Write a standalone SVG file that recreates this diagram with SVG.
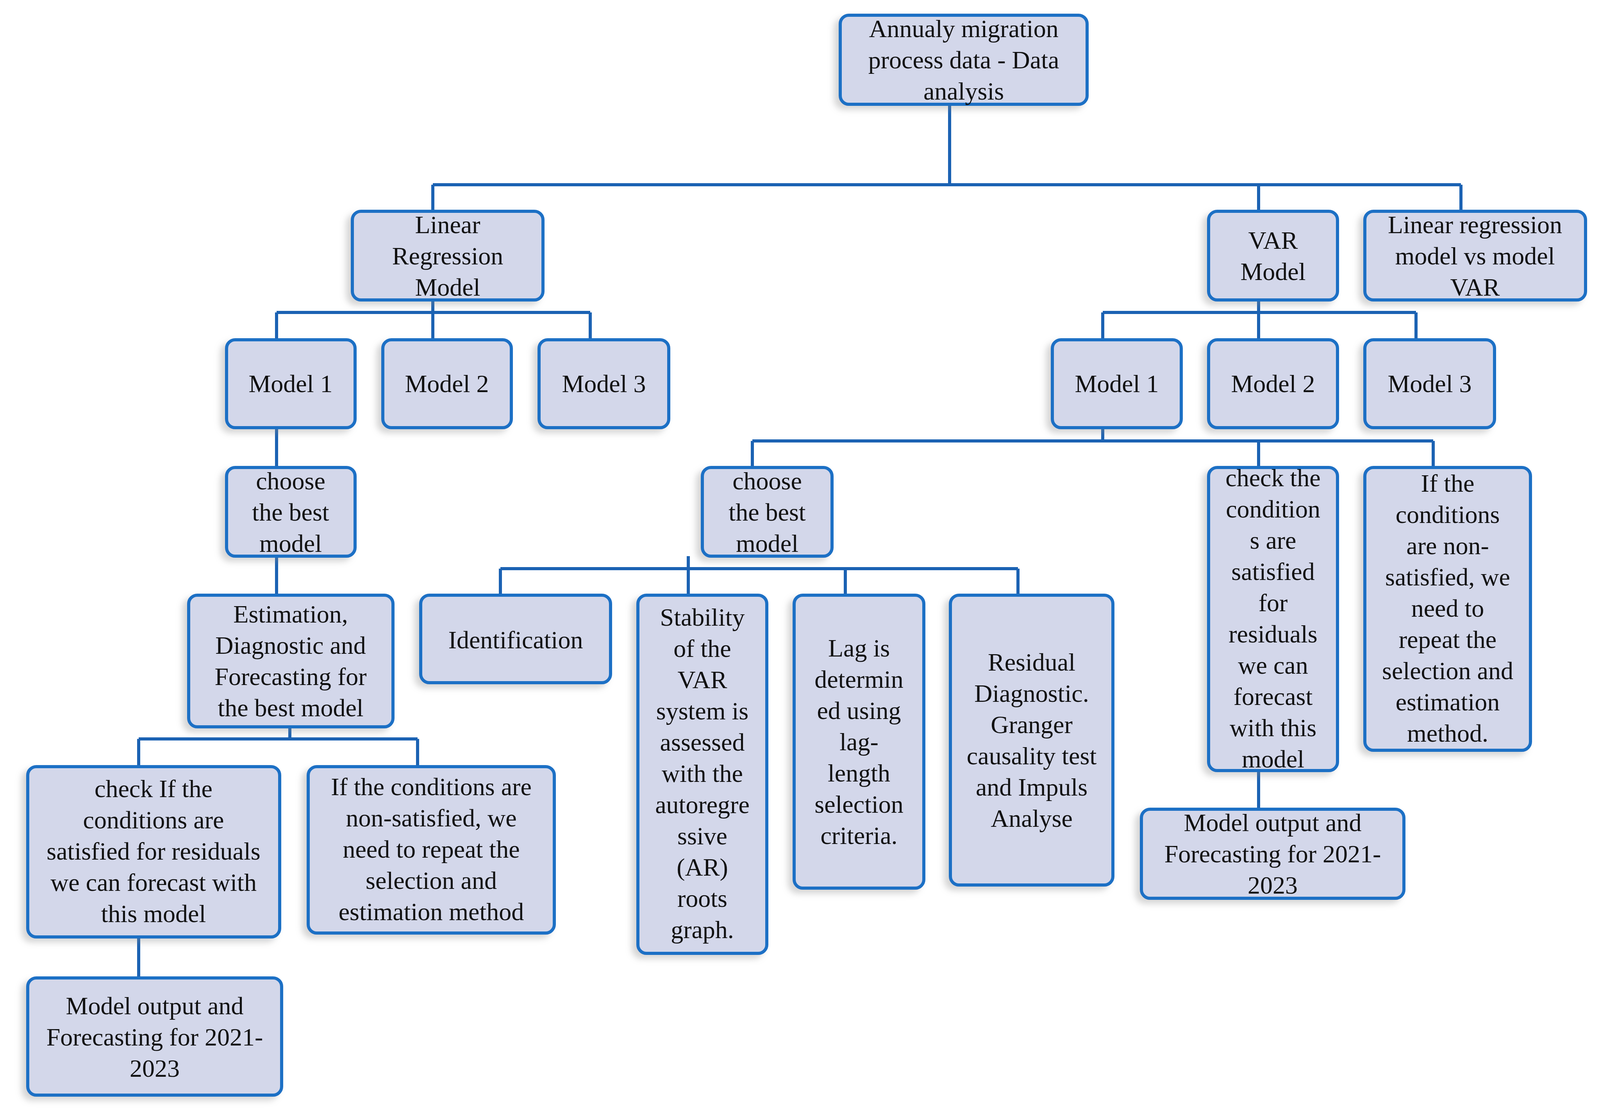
<svg xmlns="http://www.w3.org/2000/svg" width="4098" height="2837" viewBox="0 0 4098 2837">
<style>
.b{fill:#d3d7ea;stroke:#1f6fc5;stroke-width:8;filter:url(#sh)}
.t{font-family:"Liberation Serif",serif;font-size:64px;fill:#111;text-anchor:middle}
.c{stroke:#1b62b3;stroke-width:8;fill:none}
</style>
<defs><filter id="sh" x="-20%" y="-20%" width="140%" height="140%"><feDropShadow dx="-12" dy="10" stdDeviation="8" flood-color="#888" flood-opacity="0.35"/></filter></defs>
<rect width="4098" height="2837" fill="#fff"/>
<g id="connectors" class="c">
<path d="M2431 267V473M1108 473H3740M1108 473V541M3222 473V541M3740 473V541"/>
<path d="M1108 768V800M708 800H1511M708 800V870M1108 800V870M1511 800V870"/>
<path d="M3222 768V800M2823 800H3625M2823 800V870M3222 800V870M3625 800V870"/>
<path d="M708 1095V1197M708 1424V1524"/>
<path d="M742 1861V1892M355 1892H1069M355 1892V1963M1069 1892V1963M355 2399V2504"/>
<path d="M2823 1095V1129M1926 1129H3669M1926 1129V1197M3222 1129V1197M3669 1129V1197"/>
<path d="M1762 1424V1456M1281 1456H2606M1281 1456V1524M1762 1456V1524M2164 1456V1524M2606 1456V1524"/>
<path d="M3222 1973V2072"/>
</g>
<g id="top"><rect class="b" x="2151" y="39" width="632" height="228" rx="22"/><text class="t" x="2467" y="95"><tspan x="2467">Annualy migration</tspan><tspan x="2467" dy="80">process data - Data</tspan><tspan x="2467" dy="80">analysis</tspan></text></g>
<g id="lrm"><rect class="b" x="902" y="541" width="488" height="227" rx="22"/><text class="t" x="1146" y="597"><tspan x="1146">Linear</tspan><tspan x="1146" dy="80">Regression</tspan><tspan x="1146" dy="80">Model</tspan></text></g>
<g id="var"><rect class="b" x="3094" y="541" width="330" height="227" rx="22"/><text class="t" x="3259" y="637"><tspan x="3259">VAR</tspan><tspan x="3259" dy="80">Model</tspan></text></g>
<g id="lrvsvar"><rect class="b" x="3494" y="541" width="565" height="227" rx="22"/><text class="t" x="3776" y="597"><tspan x="3776">Linear regression</tspan><tspan x="3776" dy="80">model vs model</tspan><tspan x="3776" dy="80">VAR</tspan></text></g>
<g id="lr-m1"><rect class="b" x="580" y="870" width="329" height="225" rx="22"/><text class="t" x="744" y="1004">Model 1</text></g>
<g id="lr-m2"><rect class="b" x="980" y="870" width="329" height="225" rx="22"/><text class="t" x="1144" y="1004">Model 2</text></g>
<g id="lr-m3"><rect class="b" x="1380" y="870" width="332" height="225" rx="22"/><text class="t" x="1546" y="1004">Model 3</text></g>
<g id="var-m1"><rect class="b" x="2694" y="870" width="330" height="225" rx="22"/><text class="t" x="2859" y="1004">Model 1</text></g>
<g id="var-m2"><rect class="b" x="3094" y="870" width="330" height="225" rx="22"/><text class="t" x="3259" y="1004">Model 2</text></g>
<g id="var-m3"><rect class="b" x="3494" y="870" width="332" height="225" rx="22"/><text class="t" x="3660" y="1004">Model 3</text></g>
<g id="choose-lr"><rect class="b" x="580" y="1197" width="329" height="227" rx="22"/><text class="t" x="744" y="1253"><tspan x="744">choose</tspan><tspan x="744" dy="80">the best</tspan><tspan x="744" dy="80">model</tspan></text></g>
<g id="choose-var"><rect class="b" x="1798" y="1197" width="332" height="227" rx="22"/><text class="t" x="1964" y="1253"><tspan x="1964">choose</tspan><tspan x="1964" dy="80">the best</tspan><tspan x="1964" dy="80">model</tspan></text></g>
<g id="check-var"><rect class="b" x="3094" y="1197" width="330" height="776" rx="22"/><text class="t" x="3259" y="1245"><tspan x="3259">check the</tspan><tspan x="3259" dy="80">condition</tspan><tspan x="3259" dy="80">s are</tspan><tspan x="3259" dy="80">satisfied</tspan><tspan x="3259" dy="80">for</tspan><tspan x="3259" dy="80">residuals</tspan><tspan x="3259" dy="80">we can</tspan><tspan x="3259" dy="80">forecast</tspan><tspan x="3259" dy="80">with this</tspan><tspan x="3259" dy="80">model</tspan></text></g>
<g id="if-var"><rect class="b" x="3494" y="1197" width="424" height="724" rx="22"/><text class="t" x="3706" y="1259"><tspan x="3706">If the</tspan><tspan x="3706" dy="80">conditions</tspan><tspan x="3706" dy="80">are non-</tspan><tspan x="3706" dy="80">satisfied, we</tspan><tspan x="3706" dy="80">need to</tspan><tspan x="3706" dy="80">repeat the</tspan><tspan x="3706" dy="80">selection and</tspan><tspan x="3706" dy="80">estimation</tspan><tspan x="3706" dy="80">method.</tspan></text></g>
<g id="estimation"><rect class="b" x="483" y="1524" width="523" height="337" rx="22"/><text class="t" x="744" y="1594"><tspan x="744">Estimation,</tspan><tspan x="744" dy="80">Diagnostic and</tspan><tspan x="744" dy="80">Forecasting for</tspan><tspan x="744" dy="80">the best model</tspan></text></g>
<g id="identification"><rect class="b" x="1077" y="1524" width="486" height="224" rx="22"/><text class="t" x="1320" y="1660">Identification</text></g>
<g id="stability"><rect class="b" x="1633" y="1524" width="330" height="917" rx="22"/><text class="t" x="1798" y="1602"><tspan x="1798">Stability</tspan><tspan x="1798" dy="80">of the</tspan><tspan x="1798" dy="80">VAR</tspan><tspan x="1798" dy="80">system is</tspan><tspan x="1798" dy="80">assessed</tspan><tspan x="1798" dy="80">with the</tspan><tspan x="1798" dy="80">autoregre</tspan><tspan x="1798" dy="80">ssive</tspan><tspan x="1798" dy="80">(AR)</tspan><tspan x="1798" dy="80">roots</tspan><tspan x="1798" dy="80">graph.</tspan></text></g>
<g id="lag"><rect class="b" x="2033" y="1524" width="332" height="750" rx="22"/><text class="t" x="2199" y="1681"><tspan x="2199">Lag is</tspan><tspan x="2199" dy="80">determin</tspan><tspan x="2199" dy="80">ed using</tspan><tspan x="2199" dy="80">lag-</tspan><tspan x="2199" dy="80">length</tspan><tspan x="2199" dy="80">selection</tspan><tspan x="2199" dy="80">criteria.</tspan></text></g>
<g id="residual"><rect class="b" x="2433" y="1524" width="416" height="742" rx="22"/><text class="t" x="2641" y="1717"><tspan x="2641">Residual</tspan><tspan x="2641" dy="80">Diagnostic.</tspan><tspan x="2641" dy="80">Granger</tspan><tspan x="2641" dy="80">causality test</tspan><tspan x="2641" dy="80">and Impuls</tspan><tspan x="2641" dy="80">Analyse</tspan></text></g>
<g id="output-var"><rect class="b" x="2922" y="2072" width="672" height="228" rx="22"/><text class="t" x="3258" y="2128"><tspan x="3258">Model output and</tspan><tspan x="3258" dy="80">Forecasting for 2021-</tspan><tspan x="3258" dy="80">2023</tspan></text></g>
<g id="check-lr"><rect class="b" x="71" y="1963" width="645" height="436" rx="22"/><text class="t" x="393" y="2041"><tspan x="393">check If the</tspan><tspan x="393" dy="80">conditions are</tspan><tspan x="393" dy="80">satisfied for residuals</tspan><tspan x="393" dy="80">we can forecast with</tspan><tspan x="393" dy="80">this model</tspan></text></g>
<g id="if-lr"><rect class="b" x="789" y="1963" width="630" height="426" rx="22"/><text class="t" x="1104" y="2036"><tspan x="1104">If the conditions are</tspan><tspan x="1104" dy="80">non-satisfied, we</tspan><tspan x="1104" dy="80">need to repeat the</tspan><tspan x="1104" dy="80">selection and</tspan><tspan x="1104" dy="80">estimation method</tspan></text></g>
<g id="output-lr"><rect class="b" x="71" y="2504" width="650" height="300" rx="22"/><text class="t" x="396" y="2597"><tspan x="396">Model output and</tspan><tspan x="396" dy="80">Forecasting for 2021-</tspan><tspan x="396" dy="80">2023</tspan></text></g>
</svg>
